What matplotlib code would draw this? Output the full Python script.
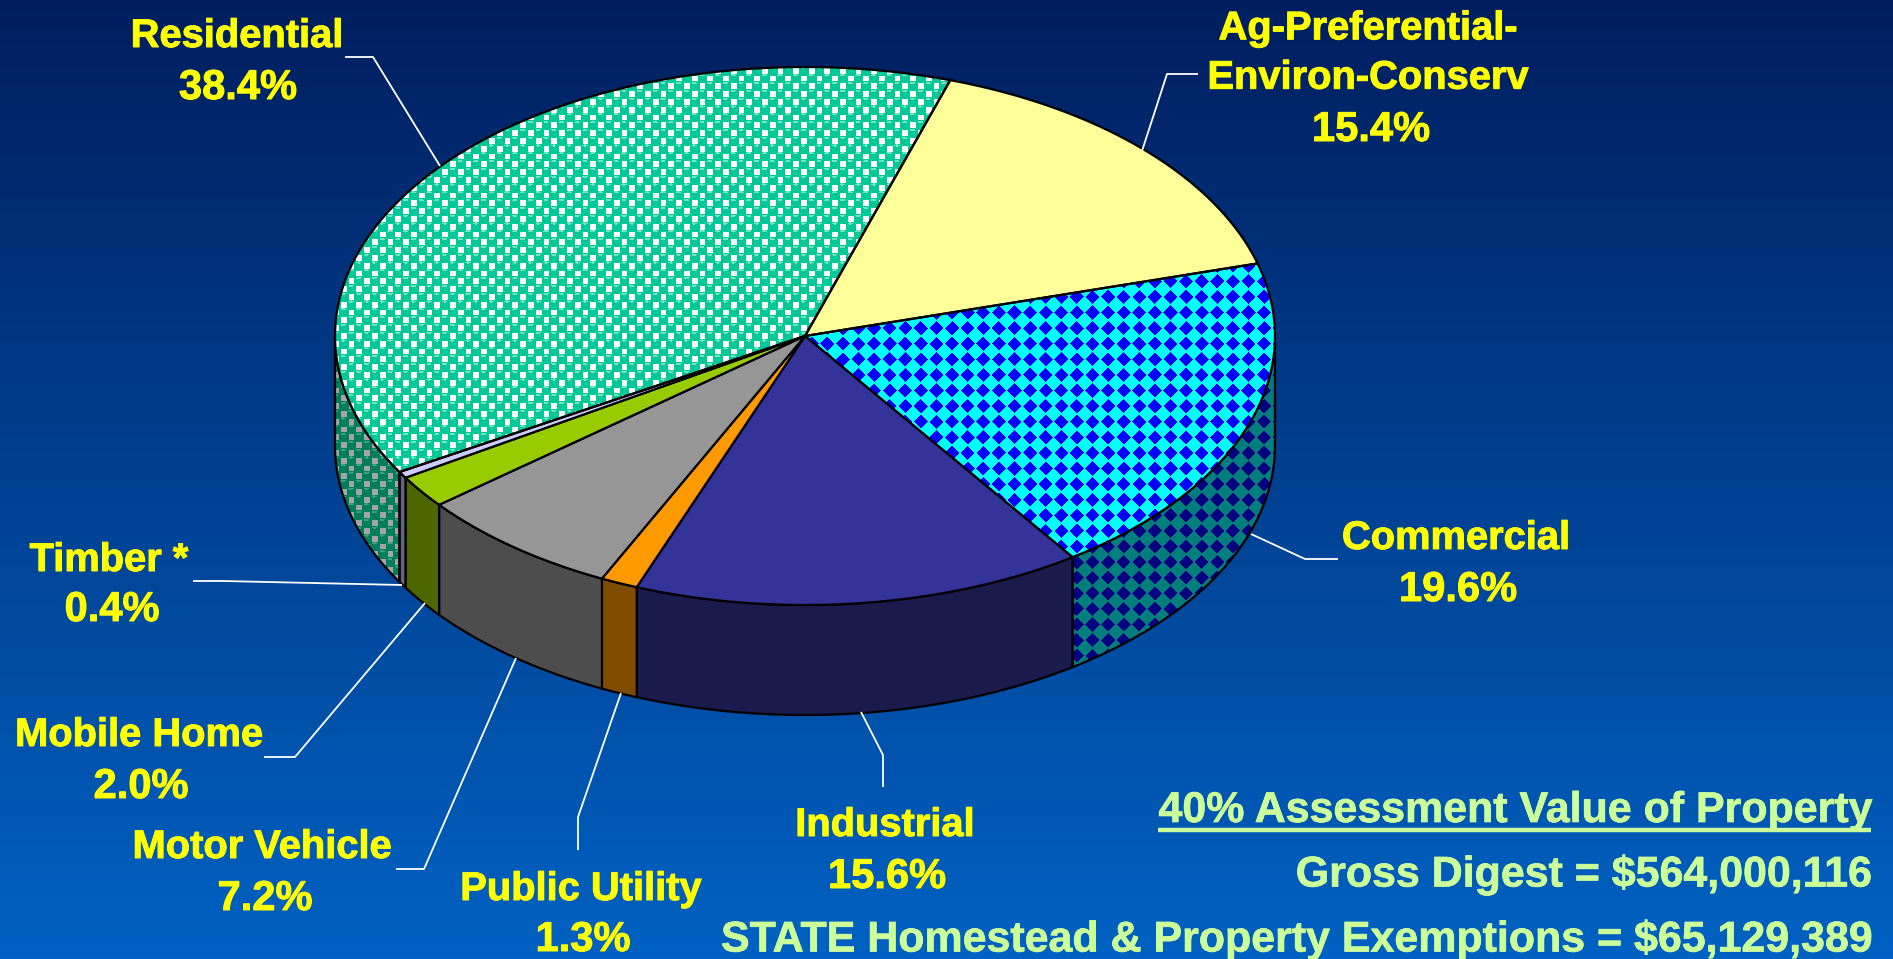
import numpy as np
import matplotlib
matplotlib.use("Agg")
import matplotlib.pyplot as plt
import matplotlib.patheffects as pe
from matplotlib.patches import Polygon

# Chart data
categories = ['Ag-Preferential-\nEnviron-Conserv', 'Commercial', 'Industrial', 'Public Utility',
              'Motor Vehicle', 'Mobile Home', 'Timber *', 'Residential']
shares = [15.4, 19.6, 15.6, 1.3, 7.2, 2.0, 0.4, 38.4]
top_colors = [(255, 255, 153), 'diamond', (51, 51, 153), (255, 153, 0),
              (150, 150, 150), (153, 204, 0), (204, 204, 255), 'dots']
side_colors = [(128, 128, 77), 'diamond_dark', (26, 26, 77), (128, 77, 0),
               (77, 77, 77), (77, 102, 0), (102, 102, 128), 'dots_dark']
summary_lines = ['40% Assessment Value of Property', 'Gross Digest = $564,000,116',
                 'STATE Homestead & Property Exemptions = $65,129,389']

# Layout in image pixels
W, H = 1893, 959
cx, cy, rx, ry, depth = 805, 336, 470, 269, 110
start_angle = 72

name_pos = [(1368, 53), (1456, 538), (885, 825), (581, 889), (262, 847), (139, 735), (109, 560), (237, 36)]
pct_pos = [(1371, 130), (1458, 590), (887, 877), (583, 940), (265, 899), (141, 787), (112, 610), (238, 88)]
leaders = [
    [(1198, 74), (1167, 74), (1142, 151)],
    [(1338, 559), (1305, 559), (1251, 534)],
    [(883, 787), (883, 755), (861, 712)],
    [(578, 850), (578, 817), (621, 693)],
    [(396, 869), (424, 869), (516, 658)],
    [(264, 757), (295, 757), (425, 603)],
    [(193, 581), (223, 581), (402, 585)],
    [(345, 57), (373, 57), (440, 166)],
]
LABEL_FONT = 'Liberation Sans'
GRID = 15.6


def rgb(c):
    return np.array(c) / 255.0


def rim(a, b, dy=0):
    t = np.radians(np.linspace(a, b, 80))
    return np.column_stack([cx + rx * np.cos(t), cy + dy - ry * np.sin(t)])


yy, xx = np.mgrid[0:H, 0:W]


def cell(shift_x, shift_y):
    # offset of each pixel from the nearest node of a square grid
    return ((xx - shift_x + GRID / 2) % GRID - GRID / 2,
            (yy - shift_y + GRID / 2) % GRID - GRID / 2)


def dots_texture(dot, shine, back):
    img = np.ones((H, W, 3)) * rgb(dot)
    # gaps between the staggered dots read as small squares
    for sx, sy in [(GRID / 2, 0), (0, GRID / 2)]:
        dx, dy = cell(sx, sy)
        img[(np.abs(dx) < 2.9) & (np.abs(dy) < 2.9)] = rgb(back)
    for sx, sy in [(0, 0), (GRID / 2, GRID / 2)]:
        dx, dy = cell(sx, sy)
        img[np.hypot((dx + 0.5) / 2.6, (dy + 3.2) / 1.1) < 1] = rgb(shine)
    return img


def diamond_texture(mark, back):
    dx, dy = cell(0, 0)
    return np.where((np.abs(dx) + np.abs(dy) < 7.1)[..., None], rgb(mark), rgb(back))


textures = {
    'dots': dots_texture((0, 200, 150), (110, 230, 195), (255, 255, 255)),
    'dots_dark': dots_texture((0, 125, 90), (60, 160, 130), (165, 165, 165)),
    'diamond': diamond_texture((0, 0, 255), (0, 255, 255)),
    'diamond_dark': diamond_texture((0, 0, 128), (0, 125, 125)),
}

fig = plt.figure(figsize=(W / 100, H / 100), dpi=100)
ax = fig.add_axes([0, 0, 1, 1])
ax.set_xlim(0, W)
ax.set_ylim(H, 0)
ax.axis('off')

# background gradient
grad = np.linspace(0, 1, H)[:, None, None]
bg = rgb((0, 30, 95)) * (1 - grad) + rgb((0, 98, 195)) * grad
ax.imshow(bg, extent=(0, W, H, 0), aspect='auto', zorder=0)

LW = 1.6


def fill(pts, color, z):
    if isinstance(color, str):
        clip = Polygon(pts, closed=True, transform=ax.transData, fc='none', ec='none')
        ax.add_patch(clip)
        im = ax.imshow(textures[color], extent=(0, W, H, 0), aspect='auto', zorder=z,
                       interpolation='nearest')
        im.set_clip_path(clip)
        ax.add_patch(Polygon(pts, closed=True, fc='none', ec='black', lw=LW, zorder=z + 0.1,
                             joinstyle='round'))
    else:
        ax.add_patch(Polygon(pts, closed=True, fc=rgb(color), ec='black', lw=LW, zorder=z + 0.1,
                             joinstyle='round'))


# wedge angles follow the shares (they add up to 99.9), clockwise from the start angle
edges = start_angle - np.cumsum([0] + shares) / sum(shares) * 360
# the slide's 3D projection pulls the front wedges round by about a degree
warp = np.where(edges > -150, -1.2 * np.sin(np.pi * (start_angle - edges) / 222), 0)
edges = edges + warp

# side walls first, only the part that faces the viewer
for i in range(len(shares)):
    a, b = edges[i], edges[i + 1]
    lo, hi = max(b, -180), min(a, 0)
    if hi > lo:
        fill(np.vstack([rim(hi, lo), rim(lo, hi, depth)]), side_colors[i], 2)

# top faces
for i in range(len(shares)):
    fill(np.vstack([[cx, cy], rim(edges[i], edges[i + 1])]), top_colors[i], 3)

# leader lines and labels
for line in leaders:
    xs, ys = zip(*line)
    ax.plot(xs, ys, color='white', lw=1.3, zorder=4, solid_capstyle='butt')

heavy = [pe.withStroke(linewidth=0.7, foreground='#FFFF00')]
for i, name in enumerate(categories):
    ax.text(name_pos[i][0], name_pos[i][1], name, color='#FFFF00', fontsize=28.7, fontweight='bold',
            family=LABEL_FONT, ha='center', va='center', linespacing=1.38, zorder=5, path_effects=heavy)
    ax.text(pct_pos[i][0], pct_pos[i][1], f'{shares[i]:.1f}%', color='#FFFF00', fontsize=30,
            fontweight='bold', family=LABEL_FONT, ha='center', va='center', zorder=5, path_effects=heavy)

summary_y = [811, 875, 940]
heavy2 = [pe.withStroke(linewidth=0.5, foreground='#CCFF99')]
for s, y in zip(summary_lines, summary_y):
    ax.text(1871, y, s, color='#CCFF99', fontsize=30.9, fontweight='bold', family=LABEL_FONT,
            ha='right', va='center', zorder=5, path_effects=heavy2)
ax.plot([1158, 1871], [830, 830], color='#CCFF99', lw=3.2, zorder=5, solid_capstyle='butt')

fig.savefig('out.png', dpi=100)
